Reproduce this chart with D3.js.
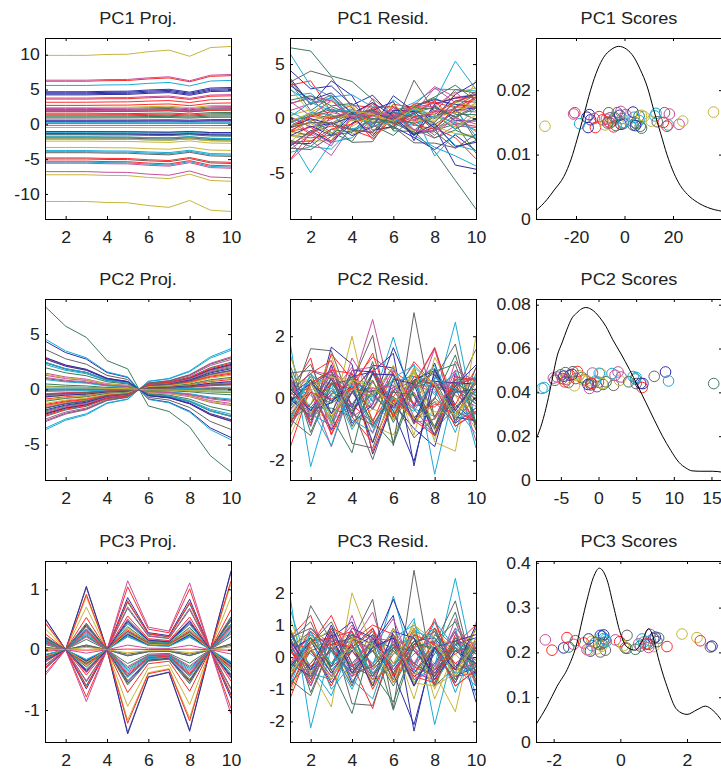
<!DOCTYPE html>
<html><head><meta charset="utf-8">
<script src="https://cdn.jsdelivr.net/npm/d3@7"></script>
<style>body{margin:0;background:#fff}svg{display:block}</style>
</head><body><svg id="c" width="721" height="769"></svg>
<script>
// ---------------- DATA ----------------
const variables = [1,2,3,4,5,6,7,8,9,10];
const palette = ["#2e2ea6","#3c7c5c","#ff2a2a","#1aaad6","#c6509c","#c8b53a","#646464"];
const titles = [["PC1 Proj.","PC1 Resid.","PC1 Scores"],["PC2 Proj.","PC2 Resid.","PC2 Scores"],["PC3 Proj.","PC3 Resid.","PC3 Scores"]];

const load1 = [-0.302,-0.302,-0.302,-0.306,-0.307,-0.318,-0.325,-0.298,-0.336,-0.341];
const load2 = [0.490,0.373,0.307,0.170,0.121,-0.098,-0.131,-0.222,-0.392,-0.490];
const load3 = [0.190,0.000,0.382,0.000,-0.508,-0.166,-0.137,-0.492,0.000,0.475];

const score1 = [-15.5,-5.0,-20.5,-18.5,22.5,-32.8,16.5,-14.5,3.5,16.0,18.0,-21.0,36.7,-6.0,-14.0,-6.5,-12.0,12.5,-7.5,24.0,4.5,-15.0,5.0,-10.5,13.0,-1.5,8.0,-0.5,-2.0,-3.5,-6.0,-1.0,0.5,1.5,6.5,3.5,7.0,-4.5,4.0,-6.5,11.0,-3.0,-1.5,6.0,-9.0,-0.5,18.5,-8.0,13.5,4.5,-4.0,17.5,6.0,-12.5,7.0,-7.0];
const score2 = [8.9,15.3,5.8,-7.5,-6.0,-4.5,7.4,5.9,-4.0,-4.5,-7.2,-5.5,-3.2,-5.8,-3.8,4.9,-2.8,9.3,2.6,0.3,-4.4,-1.0,0.6,-1.8,4.6,-0.8,-2.0,2.0,-4.6,-2.2,0.0,0.1,3.0,2.8,-0.2,-3.5,1.0,-3.0,-0.4,-1.2,-1.5,5.0,-1.4,-5.0,-0.9,5.0,-4.2,-2.6,-1.0,5.6,4.0,-4.8,1.8,2.2,0.5,-3.4];
const score3 = [-1.7,-1.55,-2.05,-0.5,-2.25,2.3,2.7,2.75,-1.35,-1.6,-0.55,-1.4,1.85,-0.45,-0.6,0.2,2.4,-0.45,0.75,-0.85,0.2,-0.9,1.15,1.4,0.7,-0.15,-0.7,-0.5,1.0,-0.55,-1.1,-0.85,0.9,1.0,-0.6,-0.5,0.45,-0.65,0.65,0.85,-0.55,0.85,1.05,-0.75,0.8,-0.42,-1.0,-0.95,0.15,-0.95,0.6,-0.02,0.9,0.55,0.1,1.1];

const jitter1 = [0.0158,0.0152,0.0165,0.0148,0.0147,0.0144,0.0165,0.0162,0.0146,0.0150,0.0146,0.0163,0.0166,0.0157,0.0154,0.0165,0.0142,0.0160,0.0155,0.0152,0.0149,0.0142,0.0148,0.0159,0.0164,0.0167,0.0159,0.0148,0.0161,0.0145,0.0149,0.0156,0.0162,0.0153,0.0144,0.0166,0.0141,0.0143,0.0158,0.0151,0.0152,0.0165,0.0147,0.0160,0.0154,0.0150,0.0163,0.0146,0.0151,0.0145,0.0157,0.0144,0.0153,0.0156,0.0161,0.0149];
const jitter2 = [0.0493,0.0440,0.0422,0.0418,0.0465,0.0459,0.0473,0.0440,0.0445,0.0448,0.0422,0.0470,0.0430,0.0455,0.0478,0.0461,0.0495,0.0452,0.0493,0.0485,0.0490,0.0442,0.0436,0.0457,0.0472,0.0488,0.0456,0.0432,0.0474,0.0468,0.0446,0.0487,0.0470,0.0455,0.0426,0.0482,0.0448,0.0463,0.0451,0.0418,0.0452,0.0440,0.0436,0.0480,0.0441,0.0468,0.0458,0.0476,0.0434,0.0441,0.0448,0.0463,0.0486,0.0478,0.0440,0.0494];
const jitter3 = [0.210,0.212,0.205,0.231,0.228,0.233,0.212,0.214,0.226,0.233,0.236,0.218,0.241,0.205,0.238,0.209,0.226,0.229,0.218,0.225,0.238,0.203,0.232,0.213,0.223,0.228,0.208,0.222,0.231,0.219,0.221,0.215,0.240,0.213,0.201,0.239,0.207,0.218,0.230,0.211,0.214,0.218,0.234,0.222,0.219,0.225,0.206,0.205,0.210,0.230,0.214,0.224,0.226,0.219,0.215,0.224];

const resid3 = [
[0.4,-0.6,0.9,-0.3,0.2,0.7,-0.5,0.3,-0.8,0.5],
[-0.7,0.5,-0.2,0.8,-0.9,0.1,0.6,-0.4,0.3,-0.1],
[0.6,1.3,-0.4,0.2,-0.7,-0.3,0.9,-0.6,0.5,0.1],
[1.9,-2.2,0.3,-0.5,0.6,-0.2,0.4,0.8,-0.3,-0.9],
[-0.5,0.2,-0.7,0.4,1.4,-0.6,0.1,0.5,-0.4,0.3],
[0.2,-0.4,-1.55,2.0,0.3,-0.8,0.5,-0.2,0.6,-0.5],
[-0.8,1.6,0.5,-0.3,-0.6,0.4,-0.9,0.7,0.2,0.3],
[0.3,-0.9,0.6,1.1,-0.4,0.3,-0.6,-0.2,0.8,-1.4],
[0.7,-0.3,0.2,-0.6,0.5,-1.65,0.4,0.3,-0.5,0.9],
[-1.3,0.4,1.3,-0.2,-1.6,0.6,0.2,-0.4,0.1,0.5],
[0.5,0.1,-0.4,0.3,-0.2,0.9,-0.7,-0.3,2.45,-0.6],
[0.1,0.6,-0.3,1.3,-0.5,0.2,-0.4,0.9,-0.7,0.2],
[-0.4,-0.2,0.7,-0.9,0.6,-0.3,1.1,-0.5,-1.7,1.1],
[0.2,-0.7,0.3,0.5,1.8,-1.6,2.7,-0.9,0.4,-0.3],
[-0.6,0.3,-0.8,0.2,0.7,-0.4,0.5,0.6,-0.2,-0.5],
[0.9,-1.1,0.4,-0.3,0.2,0.6,-0.8,0.1,1.4,-0.9],
[-0.2,0.8,0.3,-0.6,-0.2,0.4,-0.3,1.2,-0.6,-0.5],
[1.5,-0.5,-0.7,0.6,-0.3,1.9,-0.4,-0.8,0.2,0.4],
[-0.7,0.4,0.6,-0.5,0.9,-0.2,0.3,-0.6,1.2,-0.3],
[0.3,0.7,-0.5,0.4,-0.8,0.5,-1.3,0.9,0.1,-0.6],
[-0.4,0.5,0.8,-1.45,-1.5,0.3,0.6,-0.9,-0.3,0.2],
[0.8,-0.4,0.2,0.7,0.4,1.3,-2.3,0.5,-0.6,-0.3],
[-0.9,0.2,-0.6,0.3,0.8,-0.5,0.7,-0.4,0.6,0.1],
[0.4,-0.8,0.9,0.6,-1.0,0.2,-0.5,0.5,-0.2,0.3],
[-0.3,0.6,-1.0,-0.2,0.5,0.3,1.2,-2.1,0.4,0.2],
[0.6,-0.5,0.2,1.0,-0.4,0.9,-0.2,0.3,-0.9,-0.4],
[-1.1,0.3,0.5,-0.4,0.2,-0.6,0.8,-1.0,0.7,0.4],
[0.5,1.1,-0.3,0.2,-0.6,0.7,-0.9,0.4,1.75,-0.8],
[-0.2,-0.6,0.7,-0.8,0.3,1.8,0.2,-0.5,0.4,0.6],
[0.3,0.8,-0.4,-1.75,0.6,-0.3,0.5,0.2,-0.7,0.3],
[-0.6,0.2,0.4,0.3,0.9,-0.8,0.3,1.1,-0.4,-0.2],
[0.7,-0.3,-1.2,0.5,-0.2,0.4,0.6,-0.3,0.9,-1.2],
[-0.3,0.9,0.4,-0.6,0.3,1.2,-0.5,-0.7,0.5,0.2],
[1.2,-0.5,0.3,0.6,-0.9,0.2,-0.6,0.4,-0.3,-0.7],
[-0.5,0.4,1.1,-0.2,0.5,-0.7,0.9,-0.9,0.6,0.1],
[0.2,0.6,-0.3,0.9,0.6,-0.5,-2.1,0.3,0.5,0.7],
[-0.8,-0.2,0.6,0.2,-0.5,-1.4,0.4,0.8,-0.6,0.3],
[0.4,0.3,-0.9,0.5,1.0,0.7,-0.3,-0.6,0.4,1.0],
[-0.4,0.7,0.2,-1.0,0.4,-0.3,0.8,0.6,-1.1,0.5],
[0.5,-0.9,0.6,0.3,-0.7,0.5,-0.2,0.9,0.3,-0.4],
[-0.6,0.4,0.9,0.5,0.3,-0.8,0.9,-1.3,0.2,0.8],
[0.9,-0.6,0.3,-0.9,0.7,0.2,-0.5,0.3,-0.8,0.6],
[-0.3,0.5,-0.5,0.4,-0.9,0.8,0.6,-0.7,0.2,-0.2],
[0.6,-0.7,0.8,-0.4,0.2,-0.9,0.3,0.5,1.1,-0.5],
[-1.0,0.5,0.6,0.8,-0.3,0.4,-0.6,-0.8,0.7,0.2],
[0.3,-0.4,0.5,-0.7,-1.3,0.6,1.0,0.2,-0.5,-0.3],
[-0.2,0.3,-0.6,0.9,0.5,-0.4,0.3,-0.3,0.8,-0.9],
[0.8,0.5,-0.2,0.3,-0.4,0.9,-0.8,-0.9,-0.5,0.6],
[-0.7,-1.2,0.4,0.6,0.2,-0.5,0.4,0.9,-0.3,0.4],
[0.5,-0.4,1.0,-0.5,0.3,0.6,-0.9,0.3,-0.4,1.0],
[-0.4,0.6,-0.3,0.7,-0.6,0.3,0.2,-0.6,0.5,-0.2],
[0.2,-0.3,0.5,0.3,0.9,-0.6,0.7,0.4,-0.9,-0.4],
[-0.9,0.8,-0.2,0.4,-0.5,0.2,-0.3,1.1,0.3,-0.6],
[0.4,-0.6,0.8,-0.3,0.6,0.5,-0.7,-0.4,0.9,0.3],
[-0.5,0.3,-0.7,0.6,0.4,-0.2,1.0,0.5,-0.6,0.5],
[0.6,0.9,0.2,-0.5,-0.3,0.4,-0.2,-0.6,0.3,-0.7]
];

const dens1X = [-36.5,-32,-29,-25,-22,-19.6,-17,-14,-11,-8.6,-5.5,-2.4,0.7,3.9,6.5,9.4,12,14.9,17.5,20.4,23,26,30,34.2,40.2];
const dens1Y = [0.0013,0.0030,0.0045,0.0066,0.0093,0.0123,0.0158,0.0200,0.0233,0.0251,0.0263,0.0268,0.0264,0.0251,0.0232,0.0205,0.0170,0.0133,0.0100,0.0071,0.0052,0.0038,0.0026,0.0018,0.0012];
const dens2X = [-8.3,-7.5,-6.8,-6.2,-5.5,-4.8,-4.2,-3.5,-2.9,-2.2,-1.7,-1.0,0.2,1.0,1.9,3.0,4.1,5.2,6.3,7.4,8.5,9.6,10.7,11.6,12.4,13.5,15.1,16.4];
const dens2Y = [0.0186,0.0260,0.0353,0.0450,0.0565,0.0630,0.0686,0.0740,0.0762,0.0782,0.0787,0.0780,0.0740,0.0700,0.0640,0.0575,0.0505,0.0430,0.0353,0.0275,0.0200,0.0135,0.0080,0.0055,0.0042,0.0040,0.0040,0.0036];
const dens3X = [-2.53,-2.2,-1.9,-1.55,-1.3,-1.15,-1.0,-0.8,-0.63,-0.4,-0.2,0.0,0.2,0.45,0.65,0.85,1.0,1.1,1.4,1.7,2.0,2.3,2.55,2.8,3.05];
const dens3Y = [0.039,0.080,0.124,0.169,0.221,0.270,0.317,0.369,0.388,0.362,0.302,0.243,0.212,0.205,0.225,0.253,0.230,0.199,0.124,0.072,0.0616,0.072,0.080,0.069,0.047];

const lineXTicks = [2,4,6,8,10];
const projYTicks = [[-10,-5,0,5,10],[-5,0,5],[-1,0,1]];
const residYTicks = [[-5,0,5],[-2,0,2],[-2,-1,0,1,2]];
const scoreXTicks = [[-20,0,20],[-5,0,5,10,15],[-2,0,2]];
const scoreYTicks = [[0,0.01,0.02],[0,0.02,0.04,0.06,0.08],[0,0.1,0.2,0.3,0.4]];
const projYDomain = [[-13.6,12.4],[-8.2,8.17],[-1.53,1.47]];
const residYDomain = [[-9.25,7.4],[-2.63,3.2],[-2.64,2.99]];
const scoreXDomain = [[-36.5,40.2],[-8.3,16.4],[-2.53,3.05]];
const scoreYDomain = [[0,0.0281],[0,0.0826],[0,0.404]];

// ---------------- DERIVED ----------------
const idx = score1.map((_, i) => i);
const color = i => palette[i % palette.length];
const proj1 = idx.map(i => load1.map(l => score1[i] * l));
const proj2 = idx.map(i => load2.map(l => score2[i] * l));
const proj3 = idx.map(i => load3.map(l => score3[i] * l));
const resid2 = idx.map(i => resid3[i].map((v, j) => v + proj3[i][j]));
const resid1 = idx.map(i => resid2[i].map((v, j) => v + proj2[i][j]));
const projs = [proj1, proj2, proj3];
const resids = [resid1, resid2, resid3];
const scores = [score1, score2, score3];
const jitters = [jitter1, jitter2, jitter3];
const densX = [dens1X, dens2X, dens3X];
const densY = [dens1Y, dens2Y, dens3Y];

// ---------------- DRAW ----------------
const svg = d3.select("#c");
const colX = [45, 290, 536], rowY = [38, 299, 561], W = 186, H = 181;
const FONT = "'Liberation Sans', Arial, Helvetica, sans-serif";
const SX = 1.07;
const fmt = d => String(d);

function panel(c, r, title, xd, yd, xt, yt) {
  const x = d3.scaleLinear().domain(xd).range([0, W]);
  const y = d3.scaleLinear().domain(yd).range([H, 0]);
  const g = svg.append("g").attr("transform", `translate(${colX[c]},${rowY[r]})`);
  const id = `clip${r}${c}`;
  g.append("clipPath").attr("id", id).append("rect").attr("width", W + 1).attr("height", H + 1);
  const plot = g.append("g").attr("clip-path", `url(#${id})`);
  const ax = g.append("g");
  ax.append("g").attr("transform", `translate(0,${H})`)
    .call(d3.axisBottom(x).tickValues(xt).tickSize(-3).tickSizeOuter(0).tickPadding(12).tickFormat(fmt));
  ax.append("g")
    .call(d3.axisLeft(y).tickValues(yt).tickSize(-3).tickSizeOuter(0).tickPadding(4.8).tickFormat(fmt));
  ax.append("g")
    .call(d3.axisTop(x).tickValues(xt).tickSize(-3).tickSizeOuter(0).tickFormat(""));
  ax.append("g").attr("transform", `translate(${W},0)`)
    .call(d3.axisRight(y).tickValues(yt).tickSize(-3).tickSizeOuter(0).tickFormat(""));
  ax.selectAll(".domain").remove();
  ax.selectAll(".tick line").attr("stroke", "#000");
  ax.selectAll("text").attr("font-size", 16.5).attr("font-family", FONT).attr("fill", "#222")
    .attr("transform", `scale(${SX},1)`);
  ax.append("rect").attr("x", 0.5).attr("y", 0.5).attr("width", W).attr("height", H)
    .attr("fill", "none").attr("stroke", "#000").attr("stroke-width", 1);
  g.append("text").attr("transform", `translate(${W / 2},-14) scale(1.1,1)`)
    .attr("text-anchor", "middle").attr("font-size", 16.5).attr("font-family", FONT)
    .attr("fill", "#222").text(title);
  return { x, y, plot };
}

for (let r = 0; r < 3; r++) {
  // Projection panel
  let p = panel(0, r, titles[r][0], [1, 10], projYDomain[r], lineXTicks, projYTicks[r]);
  let line = d3.line().x((v, j) => p.x(variables[j])).y(v => p.y(v));
  p.plot.selectAll("path.l").data(idx).join("path").attr("class", "l")
    .attr("d", i => line(projs[r][i])).attr("fill", "none").attr("stroke", i => color(i)).attr("stroke-width", 1);

  // Residual panel
  p = panel(1, r, titles[r][1], [1, 10], residYDomain[r], lineXTicks, residYTicks[r]);
  line = d3.line().x((v, j) => p.x(variables[j])).y(v => p.y(v));
  p.plot.selectAll("path.l").data(idx).join("path").attr("class", "l")
    .attr("d", i => line(resids[r][i])).attr("fill", "none").attr("stroke", i => color(i)).attr("stroke-width", 1);

  // Scores panel
  p = panel(2, r, titles[r][2], scoreXDomain[r], scoreYDomain[r], scoreXTicks[r], scoreYTicks[r]);
  p.plot.selectAll("circle").data(idx).join("circle")
    .attr("cx", i => p.x(scores[r][i])).attr("cy", i => p.y(jitters[r][i])).attr("r", 5.3)
    .attr("fill", "none").attr("stroke", i => color(i)).attr("stroke-width", 1);
  const dl = d3.line().x(d => p.x(d[0])).y(d => p.y(d[1])).curve(d3.curveMonotoneX);
  p.plot.append("path").attr("d", dl(densX[r].map((v, k) => [v, densY[r][k]])))
    .attr("fill", "none").attr("stroke", "#000").attr("stroke-width", 1);
}
</script></body></html>
